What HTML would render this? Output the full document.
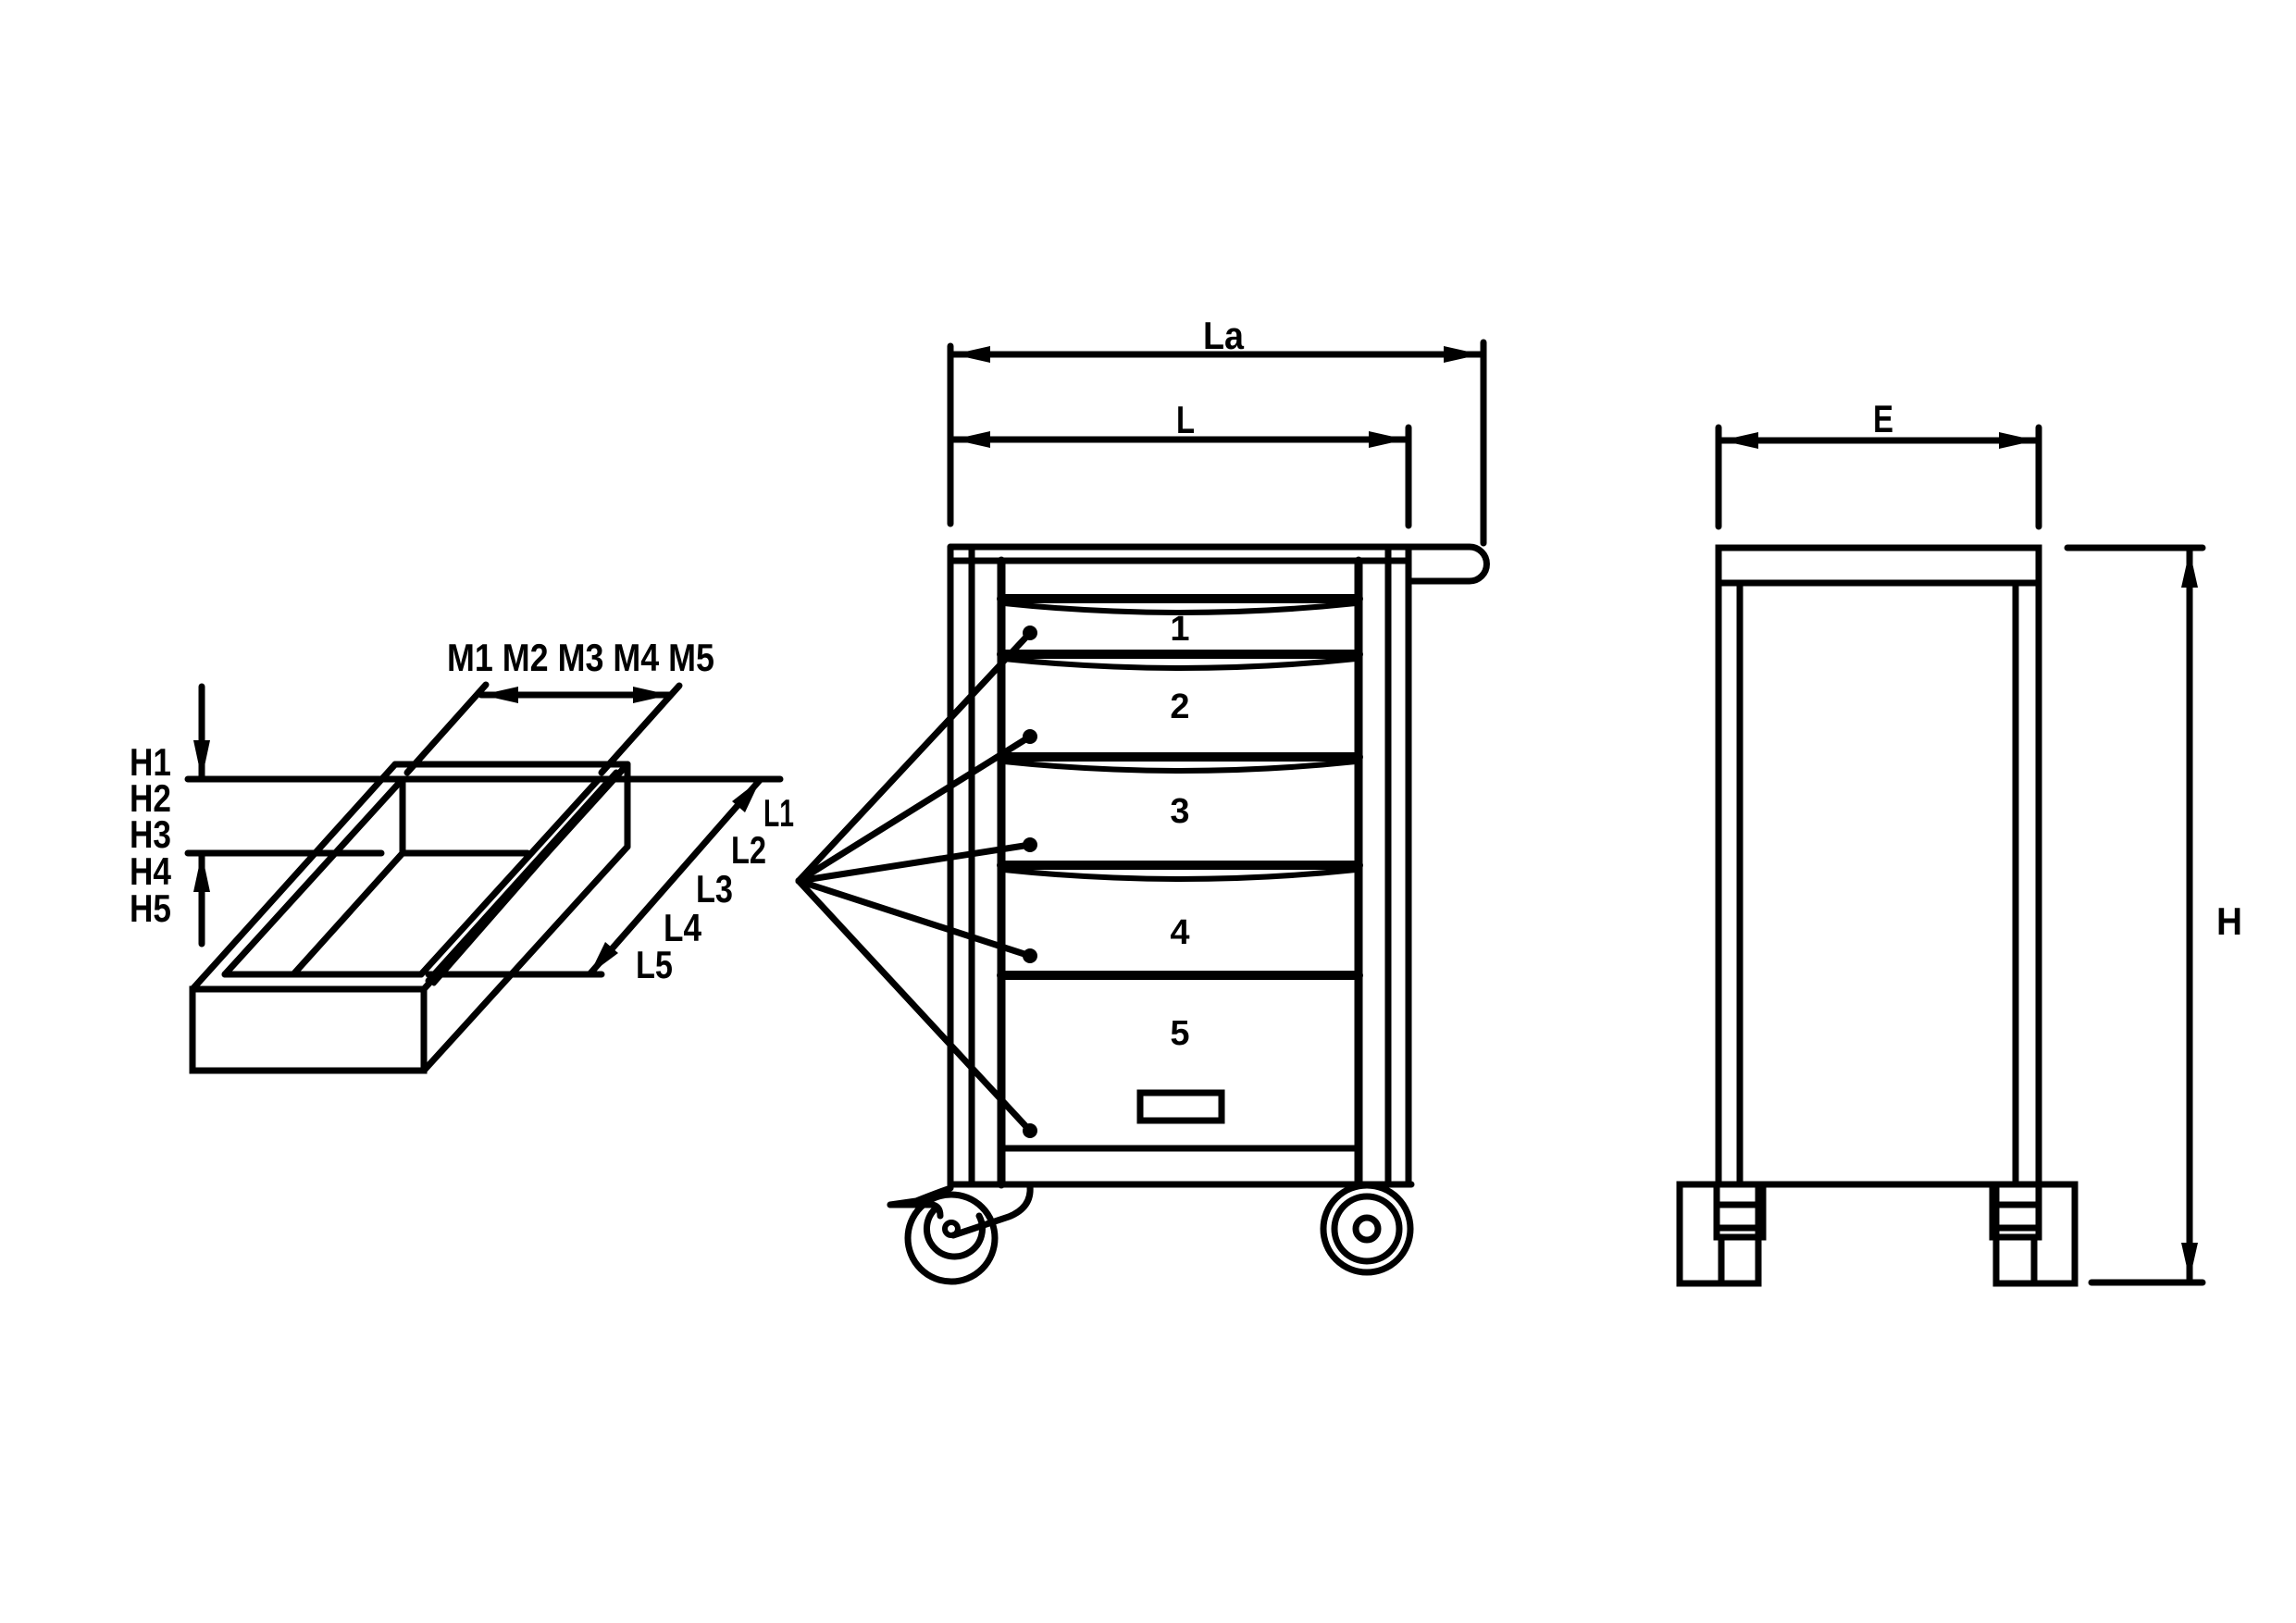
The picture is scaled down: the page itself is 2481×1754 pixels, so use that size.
<!DOCTYPE html>
<html><head><meta charset="utf-8"><style>
html,body{margin:0;padding:0;background:#fff;}
svg{display:block;}
text{font-family:"Liberation Sans",sans-serif;font-weight:bold;fill:#000;}
</style></head><body>
<svg width="2481" height="1754" viewBox="0 0 2481 1754" xmlns="http://www.w3.org/2000/svg">
<g stroke="#000" stroke-width="7" stroke-linecap="round" fill="none">
<!-- ===== Left: drawer box ===== -->
<rect x="208" y="1069" width="250" height="88"/>
<line x1="208" y1="1069" x2="427" y2="826"/>
<line x1="427" y1="826" x2="678" y2="826"/>
<line x1="678" y1="826" x2="678" y2="915"/>
<line x1="678" y1="915" x2="458" y2="1157"/>
<line x1="458" y1="1069" x2="678" y2="826"/>
<line x1="243" y1="1053" x2="435" y2="842"/>
<line x1="435" y1="842" x2="435" y2="922"/>
<line x1="435" y1="922" x2="317" y2="1053"/>
<line x1="243" y1="1053" x2="455" y2="1053"/>
<line x1="455" y1="1053" x2="647" y2="842"/>
<line x1="463" y1="1060" x2="666" y2="835"/>
<line x1="469" y1="1063" x2="672" y2="831" stroke-width="5"/>
<!-- H dimension -->
<line x1="203" y1="842" x2="843" y2="842"/>
<line x1="203" y1="922" x2="412" y2="922"/>
<line x1="437" y1="922" x2="570" y2="922"/>
<line x1="218" y1="742" x2="218" y2="842"/>
<line x1="218" y1="922" x2="218" y2="1020"/>
<!-- M dimension -->
<line x1="525" y1="740" x2="440" y2="835"/>
<line x1="734" y1="741" x2="650" y2="835"/>
<line x1="520" y1="751" x2="724" y2="751"/>
<!-- L dimension -->
<line x1="463" y1="1053" x2="650" y2="1053"/>
<line x1="822" y1="842" x2="637" y2="1053"/>
<!-- Fan -->
<line x1="863" y1="952" x2="1113" y2="684"/>
<line x1="863" y1="952" x2="1113" y2="796"/>
<line x1="863" y1="952" x2="1113" y2="913"/>
<line x1="863" y1="952" x2="1113" y2="1033"/>
<line x1="863" y1="952" x2="1113" y2="1222"/>

<!-- ===== Middle: cart front ===== -->
<line x1="1027" y1="374" x2="1027" y2="566"/>
<line x1="1603" y1="370" x2="1603" y2="587"/>
<line x1="1522" y1="462" x2="1522" y2="568"/>
<line x1="1030" y1="383" x2="1600" y2="383"/>
<line x1="1030" y1="475" x2="1519" y2="475"/>
<path d="M1027 591 H1588 A18.5 18.5 0 0 1 1588 628 H1523"/>
<line x1="1027" y1="606" x2="1522" y2="606"/>
<line x1="1027" y1="591" x2="1027" y2="1280"/>
<line x1="1050" y1="591" x2="1050" y2="1280"/>
<line x1="1082" y1="606" x2="1082" y2="1280" stroke-width="9"/>
<line x1="1468" y1="606" x2="1468" y2="1280" stroke-width="9"/>
<line x1="1500" y1="591" x2="1500" y2="1280"/>
<line x1="1522" y1="591" x2="1522" y2="1280"/>
<line x1="1027" y1="1280" x2="1525" y2="1280"/>
<g stroke-width="10">
<line x1="1082" y1="647" x2="1468" y2="647"/>
<line x1="1082" y1="707" x2="1468" y2="707"/>
<line x1="1082" y1="818" x2="1468" y2="818"/>
<line x1="1082" y1="935" x2="1468" y2="935"/>
<line x1="1082" y1="1054" x2="1468" y2="1054"/>
</g>
<line x1="1082" y1="1241" x2="1468" y2="1241"/>
<g stroke-width="6">
<path d="M1085 652 Q1275 672 1465 652"/>
<path d="M1085 712 Q1275 732 1465 712"/>
<path d="M1085 823 Q1275 843 1465 823"/>
<path d="M1085 940 Q1275 960 1465 940"/>
</g>
<rect x="1232" y="1181" width="88" height="30"/>
<!-- left caster -->
<circle cx="1028" cy="1338" r="47"/>
<path d="M1058 1314 A30 30 0 1 1 1010 1307"/>
<circle cx="1028" cy="1328" r="7" stroke-width="6"/>
<path d="M962 1302 L990 1298 Q1010 1290 1027 1284"/>
<path d="M962 1302 L1008 1302 Q1016 1304 1016 1314"/>
<path d="M1113 1282 Q1115 1305 1090 1315 L1030 1335"/>
<!-- right wheel -->
<circle cx="1477" cy="1328" r="47"/>
<circle cx="1477" cy="1328" r="35"/>
<circle cx="1477" cy="1328" r="12"/>

<!-- ===== Right: side view ===== -->
<line x1="1857" y1="462" x2="1857" y2="569"/>
<line x1="2203" y1="462" x2="2203" y2="569"/>
<line x1="1860" y1="476" x2="2200" y2="476"/>
<rect x="1857" y="592" width="346" height="38"/>
<line x1="1857" y1="630" x2="1857" y2="1280"/>
<line x1="1880" y1="630" x2="1880" y2="1280"/>
<line x1="2178" y1="630" x2="2178" y2="1280"/>
<line x1="2203" y1="630" x2="2203" y2="1280"/>
<line x1="1815" y1="1280" x2="2242" y2="1280"/>
<!-- feet -->
<rect x="1815" y="1280" width="85" height="107"/>
<rect x="1855" y="1280" width="50" height="57"/>
<line x1="1855" y1="1302" x2="1905" y2="1302"/>
<line x1="1855" y1="1327" x2="1905" y2="1327"/>
<line x1="1860" y1="1337" x2="1860" y2="1387"/>
<rect x="2157" y="1280" width="85" height="107"/>
<rect x="2153" y="1280" width="50" height="57"/>
<line x1="2153" y1="1302" x2="2203" y2="1302"/>
<line x1="2153" y1="1327" x2="2203" y2="1327"/>
<line x1="2198" y1="1337" x2="2198" y2="1387"/>
<!-- H -->
<line x1="2234" y1="592" x2="2380" y2="592"/>
<line x1="2260" y1="1386" x2="2380" y2="1386"/>
<line x1="2366" y1="595" x2="2366" y2="1383"/>
</g>

<!-- arrowheads -->
<g fill="#000" stroke="none">
<polygon points="218,842 209,800 227,800"/>
<polygon points="218,922 209,964 227,964"/>
<polygon points="520,751 560,742 560,760"/>
<polygon points="724,751 684,742 684,760"/>
<polygon points="822,842 791,866 805,878"/>
<polygon points="637,1053 654,1018 668,1030"/>
<polygon points="1030,383 1070,374 1070,392"/>
<polygon points="1600,383 1560,374 1560,392"/>
<polygon points="1030,475 1070,466 1070,484"/>
<polygon points="1519,475 1479,466 1479,484"/>
<polygon points="1860,476 1900,467 1900,485"/>
<polygon points="2200,476 2160,467 2160,485"/>
<polygon points="2366,595 2357,635 2375,635"/>
<polygon points="2366,1383 2357,1343 2375,1343"/>
<circle cx="1113" cy="684" r="8"/>
<circle cx="1113" cy="796" r="8"/>
<circle cx="1113" cy="913" r="8"/>
<circle cx="1113" cy="1033" r="8"/>
<circle cx="1113" cy="1222" r="8"/>
</g>

<!-- labels -->
<g font-size="42">
<text x="483" y="725" textLength="289" lengthAdjust="spacingAndGlyphs">M1 M2 M3 M4 M5</text>
<text x="140" y="838" textLength="45" lengthAdjust="spacingAndGlyphs">H1</text>
<text x="140" y="877" textLength="45" lengthAdjust="spacingAndGlyphs">H2</text>
<text x="140" y="916" textLength="45" lengthAdjust="spacingAndGlyphs">H3</text>
<text x="140" y="956" textLength="45" lengthAdjust="spacingAndGlyphs">H4</text>
<text x="140" y="996" textLength="45" lengthAdjust="spacingAndGlyphs">H5</text>
<text x="825" y="893" textLength="33" lengthAdjust="spacingAndGlyphs">L1</text>
<text x="790" y="933" textLength="38" lengthAdjust="spacingAndGlyphs">L2</text>
<text x="752" y="975" textLength="40" lengthAdjust="spacingAndGlyphs">L3</text>
<text x="717" y="1017" textLength="41" lengthAdjust="spacingAndGlyphs">L4</text>
<text x="687" y="1057" textLength="40" lengthAdjust="spacingAndGlyphs">L5</text>
<text x="1300" y="377" textLength="44" lengthAdjust="spacingAndGlyphs">La</text>
<text x="1271" y="468" textLength="20" lengthAdjust="spacingAndGlyphs">L</text>
<text x="2024" y="467" textLength="22" lengthAdjust="spacingAndGlyphs">E</text>
<text x="2395" y="1010" textLength="28" lengthAdjust="spacingAndGlyphs">H</text>
</g>
<g font-size="38" text-anchor="middle">
<text x="1275" y="692">1</text>
<text x="1275" y="776">2</text>
<text x="1275" y="889">3</text>
<text x="1275" y="1020">4</text>
<text x="1275" y="1129">5</text>
</g>
</svg>
</body></html>
